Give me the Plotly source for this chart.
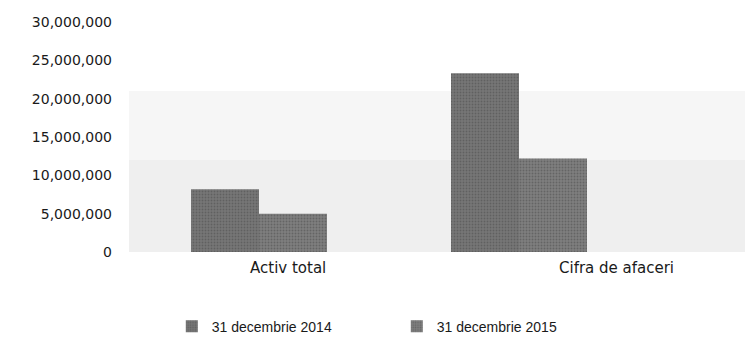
import plotly.graph_objects as go

categories = ["Activ total", "Cifra de afaceri"]
series_names = ["31 decembrie 2014", "31 decembrie 2015"]
values_2014 = [8200000, 23300000]
values_2015 = [5000000, 12200000]
y_ticks = [0, 5000000, 10000000, 15000000, 20000000, 25000000, 30000000]

bar_colors = ["#777777", "#7f7f7f"]

fig = go.Figure()
for name, vals, col in zip(series_names, [values_2014, values_2015], bar_colors):
    fig.add_trace(go.Bar(
        x=categories, y=vals, name=name,
        marker=dict(color=col, line=dict(width=0),
                    pattern=dict(shape=".", fgcolor="#4a4a4a", bgcolor=col, size=3, solidity=0.35)),
    ))

# faint dotted backdrop (scan texture)
fig.add_shape(type="rect", xref="paper", yref="y", x0=0.0, x1=1.25, y0=0, y1=21000000,
              fillcolor="#f6f6f6", line=dict(width=0), layer="below")
fig.add_shape(type="rect", xref="paper", yref="y", x0=0.0, x1=1.25, y0=0, y1=12000000,
              fillcolor="#efefef", line=dict(width=0), layer="below")

# category labels
label_shift = [29, 97]
for cat, dx in zip(categories, label_shift):
    fig.add_annotation(x=cat, xref="x", y=0, yref="paper", yshift=-27, xshift=dx,
                       text=cat, showarrow=False,
                       font=dict(family="DejaVu Sans", size=15, color="#1a1a1a"))

fig.update_layout(
    width=745, height=330,
    margin=dict(l=121, r=104, t=14, b=85.5, autoexpand=False),
    paper_bgcolor="white", plot_bgcolor="rgba(0,0,0,0)",
    barmode="group", bargap=0.477, bargroupgap=0,
    font=dict(family="DejaVu Sans", size=14, color="#1a1a1a"),
    showlegend=True,
    legend=dict(orientation="h", x=0.515, xanchor="center", y=-0.325, yanchor="middle",
                font=dict(family="Liberation Sans", size=14, color="#1a1a1a"),
                itemwidth=30, entrywidth=180, entrywidthmode="pixels"),
    xaxis=dict(showticklabels=False, showgrid=False, zeroline=False, showline=False,
               range=[-0.5, 1.5]),
    yaxis=dict(range=[0, 30000000], tickvals=y_ticks, tickformat=",d", automargin=False,
               showgrid=False, zeroline=False, showline=False,
               ticklabelstandoff=16, tickfont=dict(family="DejaVu Sans", size=14, color="#1a1a1a")),
)

fig.write_html("out.html")
